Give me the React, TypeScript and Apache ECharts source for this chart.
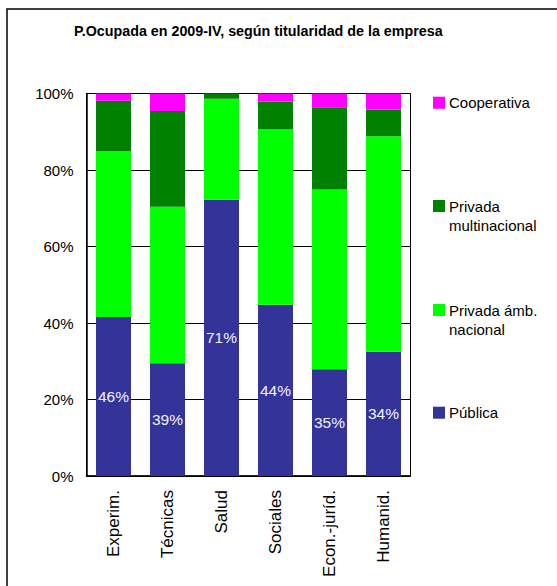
import React, { useEffect, useRef } from "react";
import * as echarts from "echarts";

const categories = ["Experim.", "Técnicas", "Salud", "Sociales", "Econ.-juríd.", "Humanid."];
const seriesNames = ["Pública", "Privada ámb. nacional", "Privada multinacional", "Cooperativa"];
const publica = [41.6, 29.5, 72.2, 44.8, 27.9, 32.5];
const nacional = [43.4, 40.9, 26.4, 45.9, 47.0, 56.3];
const multinacional = [13.1, 25.0, 1.3, 7.2, 21.5, 7.0];
const cooperativa = [1.9, 4.6, 0.1, 2.1, 3.6, 4.2];
const publicaLabels = ["46%", "39%", "71%", "44%", "35%", "34%"];
const yTicks = [0, 20, 40, 60, 80, 100];
const colors = ["#333399", "#00FF00", "#008000", "#FF00FF"];
const legendLabels = ["Pública", "Privada ámb.\nnacional", "Privada\nmultinacional", "Cooperativa"];

const FONT = "'Liberation Sans', Arial, sans-serif";

export default function App() {
  const ref = useRef<HTMLDivElement>(null);
  useEffect(() => {
    if (!ref.current) return;
    const chart = echarts.init(ref.current, null, { renderer: "svg" });
    const values = [publica, nacional, multinacional, cooperativa];
    const legendY = [412.7, 310, 206, 102.7];
    const legendGraphics: any[] = [];
    for (let i = 0; i < 4; i++) {
      const cy = legendY[i];
      legendGraphics.push({
        type: "rect",
        shape: { x: 433, y: cy - 6, width: 12, height: 12 },
        style: { fill: colors[i] },
      });
      legendGraphics.push({
        type: "text",
        x: 449,
        y: cy - 9.5,
        style: {
          text: legendLabels[i],
          font: `15px ${FONT}`,
          fill: "#000",
          lineHeight: 19,
          verticalAlign: "top",
          align: "left",
        },
      });
    }
    chart.setOption({
      animation: false,
      backgroundColor: "#fff",
      textStyle: { fontFamily: FONT },
      title: {
        text: "P.Ocupada en 2009-IV, según titularidad de la empresa",
        left: 74,
        top: 24,
        padding: 0,
        textStyle: { fontSize: 14.3, fontWeight: "bold", color: "#000", fontFamily: FONT },
      },
      grid: {
        left: 86.5,
        top: 93.5,
        width: 324,
        height: 382.5,
        show: true,
        borderColor: "#000",
        borderWidth: 1,
        containLabel: false,
      },
      xAxis: {
        type: "category",
        data: categories,
        axisLine: { show: true, lineStyle: { color: "#000", width: 1.5 } },
        axisTick: { show: false },
        axisLabel: { rotate: 90, margin: 14, fontSize: 17, color: "#000", fontFamily: FONT },
      },
      yAxis: {
        type: "value",
        min: yTicks[0],
        max: yTicks[yTicks.length - 1],
        interval: 20,
        axisLine: { show: true, lineStyle: { color: "#000", width: 1.5 } },
        axisTick: { show: false },
        axisLabel: { formatter: "{value}%", margin: 13, fontSize: 15, color: "#000", fontFamily: FONT },
        splitLine: { show: true, lineStyle: { color: "#000", width: 1 } },
      },
      series: seriesNames.map((name, i) => ({
        name,
        type: "bar",
        stack: "total",
        barWidth: 35,
        data: values[i],
        itemStyle: { color: colors[i] },
        label:
          i === 0
            ? {
                show: true,
                position: "inside",
                formatter: (p: any) => publicaLabels[p.dataIndex],
                color: "#f2f2ff",
                fontSize: 15.5,
                fontFamily: FONT,
              }
            : { show: false },
      })),
      graphic: [
        {
          type: "rect",
          shape: { x: 7, y: 9, width: 700, height: 700 },
          style: { fill: "none", stroke: "#000", lineWidth: 1.5 },
          silent: true,
        },
        ...legendGraphics,
      ],
    });
    return () => chart.dispose();
  }, []);
  return (
    <div
      ref={ref}
      style={{ position: "absolute", left: 0, top: 0, width: 557, height: 586 }}
    />
  );
}
